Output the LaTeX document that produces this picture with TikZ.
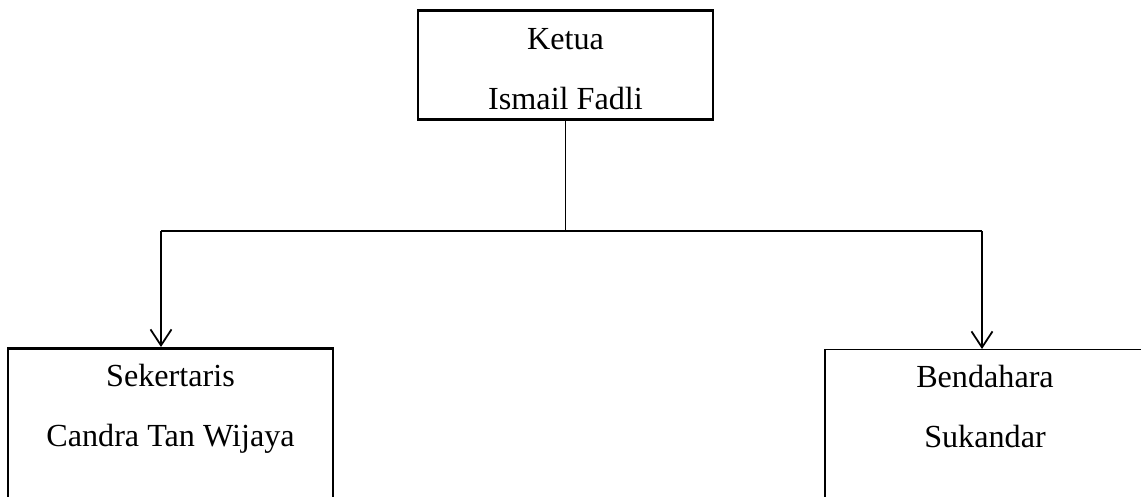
\documentclass[tikz,border=0pt]{standalone}
\usepackage{fontspec}
\setmainfont{Liberation Serif}
\usetikzlibrary{positioning,arrows.meta,calc}

\tikzset{
	jabatan/.style={draw=black, line width=1.6pt, inner sep=0pt, anchor=north},
	teks/.style={inner sep=0pt, align=center, font=\fontsize{18.3}{34.1}\selectfont},
	garis/.style={line width=0.8pt},
	panah/.style={line width=1pt, -{Straight Barb[length=0.32cm, width=0.42cm, line width=1pt]}}
}

\begin{document}
\begin{tikzpicture}
	\useasboundingbox (0,0) rectangle (22.82,-9.92);
	\clip (0,0) rectangle (22.82,-9.92);

	% kotak jabatan
	\node[jabatan, minimum width=5.90cm, minimum height=2.18cm] (ketua) at (11.31,-0.18) {};
	\node[jabatan, minimum width=6.50cm, minimum height=4cm] (sek) at (3.41,-6.94) {};
	\node[jabatan, line width=0.8pt, minimum width=6.40cm, minimum height=4cm] (bend) at (19.70,-6.98) {};

	% nama dan jabatan
	\node[teks, below=0.38cm of ketua.north] (tketua) {Ketua\\Ismail Fadli};
	\node[teks, below=0.34cm of sek.north] (tsek) {Sekertaris\\Candra Tan Wijaya};
	\node[teks, below=0.32cm of bend.north] (tbend) {Bendahara\\Sukandar};

	% garis penghubung
	\coordinate (kiri) at (3.22,-4.62);
	\coordinate (kanan) at (19.64,-4.62);
	\draw[garis] (ketua.south) -- (ketua.south |- kiri);
	\draw[garis] (kiri) -- (kanan);
	\draw[panah] (kiri) -- (kiri |- sek.north);
	\draw[panah] (kanan) -- (kanan |- bend.north);
\end{tikzpicture}
\end{document}
